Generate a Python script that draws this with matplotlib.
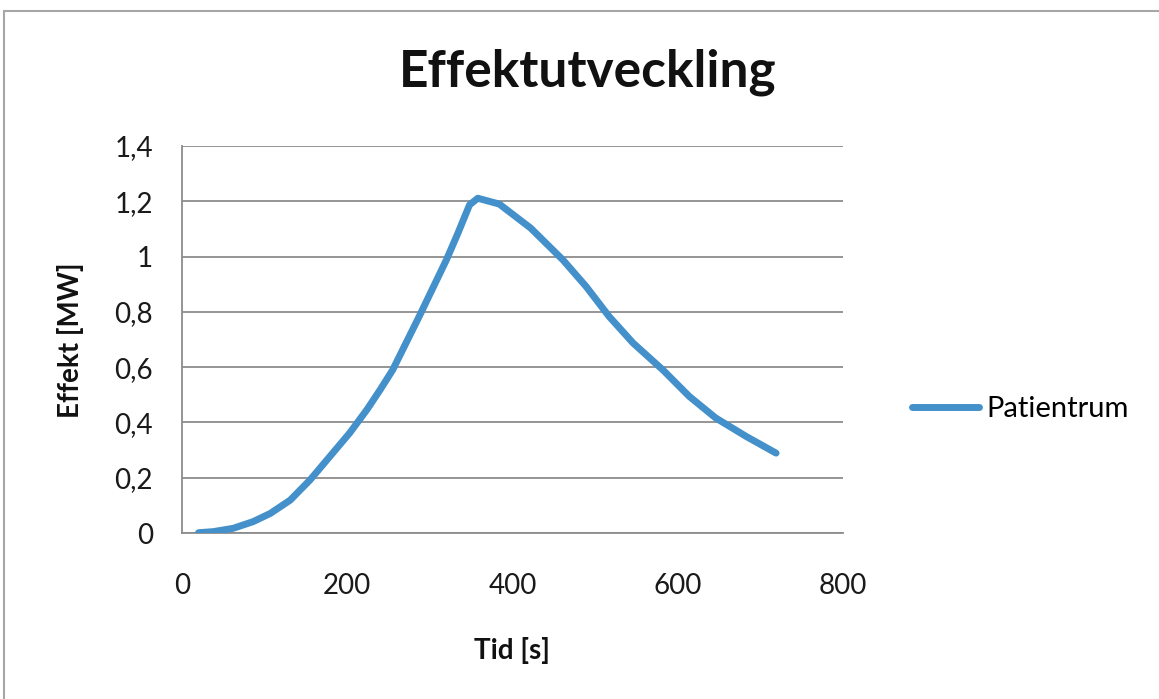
import matplotlib.pyplot as plt
from matplotlib.patches import Rectangle

# Effekt vs tid for patientrummet
tid = [20, 38, 62, 86, 107, 131, 155, 179, 203, 224, 240, 255, 287, 320,
       334, 348, 358, 384, 422, 461, 489, 517, 546, 582, 614, 646, 683, 719]
effekt = [0.001, 0.005, 0.017, 0.041, 0.071, 0.119, 0.192, 0.277, 0.362,
          0.447, 0.519, 0.59, 0.783, 0.988, 1.085, 1.187, 1.211, 1.19, 1.103,
          0.988, 0.892, 0.783, 0.687, 0.59, 0.494, 0.416, 0.349, 0.289]

x_ticks = [0, 200, 400, 600, 800]
y_ticks = [0, 0.2, 0.4, 0.6, 0.8, 1.0, 1.2, 1.4]
y_labels = ["0", "0,2", "0,4", "0,6", "0,8", "1", "1,2", "1,4"]

plt.rcParams['font.family'] = ['Lato', 'DejaVu Sans']

W, H = 1159, 699
fig = plt.figure(figsize=(W / 100, H / 100), dpi=100)
ax = fig.add_axes([182 / W, 1 - 533 / H, (843 - 182) / W, (533 - 146) / H])

# ramen runt diagrammet
fig.patches.append(Rectangle((4 / W, -0.1), 1.2, 1 - 11 / H + 0.1,
                             transform=fig.transFigure, fill=False,
                             edgecolor='#a6a6a6', linewidth=1.5))

ax.plot(tid, effekt, color='#4390cb', linewidth=5,
        solid_joinstyle='round', solid_capstyle='round', label='Patientrum',
        zorder=3)

ax.set_xlim(0, 800)
ax.set_ylim(0, 1.4)
ax.set_xticks(x_ticks)
ax.set_yticks(y_ticks)
ax.set_yticklabels(y_labels)
ax.tick_params(length=0, labelsize=20, colors='#1a1a1a')
ax.tick_params(axis='y', pad=21)
ax.tick_params(axis='x', pad=29)
ax.grid(axis='y', color='#8c8c8c', linewidth=1.3)
ax.set_axisbelow(True)
for side in ['top', 'right']:
    ax.spines[side].set_visible(False)
for side in ['left', 'bottom']:
    ax.spines[side].set_color('#8c8c8c')
    ax.spines[side].set_linewidth(1.3)

fig.text(588 / W, 1 - 87 / H, 'Effektutveckling', ha='center',
         va='baseline', fontsize=37, fontweight='bold', color='#111111')
fig.text(512 / W, 1 - 650 / H, 'Tid [s]', ha='center', va='center',
         fontsize=20, fontweight='bold', color='#111111')
fig.text(70 / W, 1 - 340 / H, 'Effekt [MW]', ha='center', va='center',
         rotation=90, fontsize=20, fontweight='bold', color='#111111')

ax.legend(loc='center left', bbox_to_anchor=(912 / W, 1 - 409 / H),
          bbox_transform=fig.transFigure, frameon=False, fontsize=21,
          handlelength=2.3, handletextpad=0.25, borderaxespad=0,
          borderpad=0)

fig.savefig('out.png', dpi=100)
